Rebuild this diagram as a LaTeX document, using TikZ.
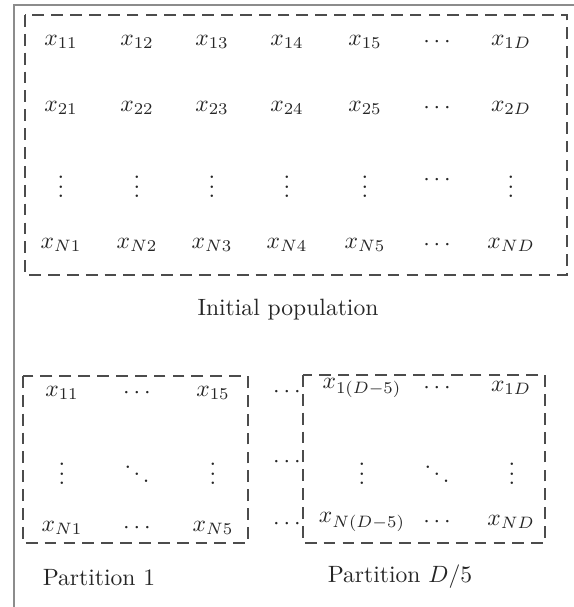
\documentclass[tikz,border=0pt]{standalone}
\begin{document}
\begin{tikzpicture}[x=0.424pt,y=-0.424pt,
  cell/.style={inner sep=0pt, text=black!85},
  lbl/.style={inner sep=0pt, text=black!85},
  dbox/.style={draw=black!70, line width=0.45pt, dash pattern=on 5pt off 3pt},
  frame/.style={draw=black!45, line width=0.9pt}]
\useasboundingbox (0,0) rectangle (573,607);
% outer frame
\draw[frame] (14,640) -- (14,5) -- (600,5);
% top box
\coordinate (t1) at (25,15);
\coordinate (t2) at (567,275);
\draw[dbox] (t1) rectangle (t2);
\foreach \x/\n in {61/1,137/2,212/3,287/4,365/5}{
  \node[cell] (a1\n) at (\x,42) {$x_{1\n}$};
  \node[cell] (a2\n) at (\x,108) {$x_{2\n}$};
  \node[cell] (a3\n) at (\x,180) {$\vdots$};
  \node[cell] (a4\n) at (\x,245) {$x_{N\n}$};
}
\node[cell] (a16) at (437,42) {$\cdots$};
\node[cell] (a26) at (437,108) {$\cdots$};
\node[cell] (a36) at (437,180) {$\cdots$};
\node[cell] (a46) at (437,245) {$\cdots$};
\node[cell] (a17) at (511,42) {$x_{1D}$};
\node[cell] (a27) at (511,108) {$x_{2D}$};
\node[cell] (a37) at (511,180) {$\vdots$};
\node[cell] (a47) at (511,245) {$x_{ND}$};
\node[lbl] (init) at (288,310) {Initial population};
% partition 1
\coordinate (p1a) at (23,376);
\coordinate (p1b) at (248,543);
\draw[dbox] (p1a) rectangle (p1b);
\node[cell] (b11) at (62,393) {$x_{11}$};
\node[cell] (b12) at (137,393) {$\cdots$};
\node[cell] (b13) at (213,393) {$x_{15}$};
\node[cell] (b21) at (62,467) {$\vdots$};
\node[cell] (b22) at (137,467) {$\ddots$};
\node[cell] (b23) at (213,467) {$\vdots$};
\node[cell] (b31) at (62,528) {$x_{N1}$};
\node[cell] (b32) at (137,528) {$\cdots$};
\node[cell] (b33) at (213,528) {$x_{N5}$};
\node[lbl] (part1) at (99,578) {Partition 1};
% middle dots
\node[cell] (m1) at (287,392) {$\cdots$};
\node[cell] (m2) at (287,462) {$\cdots$};
\node[cell] (m3) at (287,524) {$\cdots$};
% partition D/5
\coordinate (p2a) at (303,375);
\coordinate (p2b) at (545,543);
\draw[dbox] (p2a) rectangle (p2b);
\node[cell] (c11) at (362,388) {$x_{1(D-5)}$};
\node[cell] (c12) at (437,388) {$\cdots$};
\node[cell] (c13) at (511,388) {$x_{1D}$};
\node[cell] (c21) at (362,467) {$\vdots$};
\node[cell] (c22) at (437,467) {$\ddots$};
\node[cell] (c23) at (512,467) {$\vdots$};
\node[cell] (c31) at (362,522) {$x_{N(D-5)}$};
\node[cell] (c32) at (437,522) {$\cdots$};
\node[cell] (c33) at (511,522) {$x_{ND}$};
\node[lbl] (part2) at (400,577) {Partition $D/5$};
\end{tikzpicture}
\end{document}
